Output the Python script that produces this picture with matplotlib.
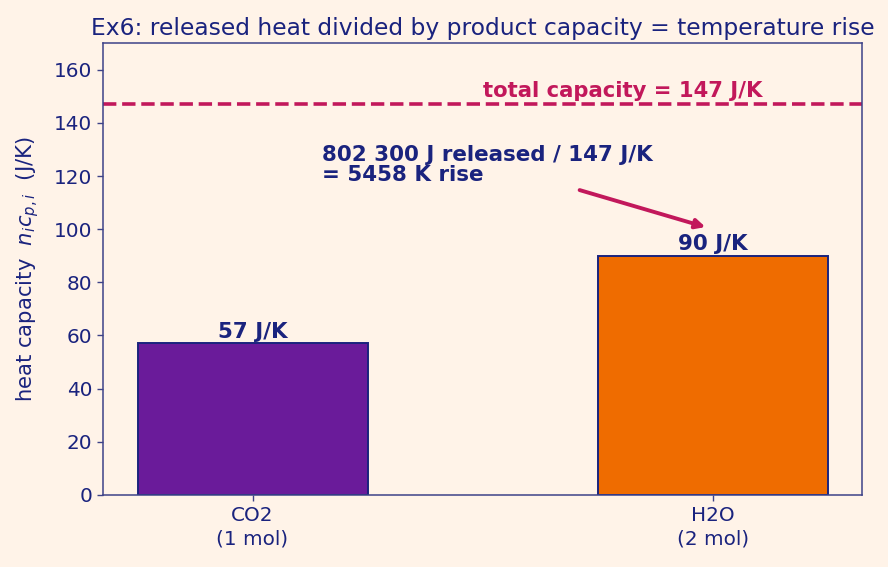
import numpy as np
import matplotlib
matplotlib.use("Agg")
import matplotlib.pyplot as plt

# data
labels = ["CO2\n(1 mol)", "H2O\n(2 mol)"]
capacity = [57, 90]
total_cap = 147
bar_colors = ["#6a1b9a", "#ef6c00"]

navy = "#1a237e"
crimson = "#c2185b"
bg = "#fff3e8"

fig, ax = plt.subplots(figsize=(8.88, 5.67), dpi=100)
fig.patch.set_facecolor(bg)
ax.set_facecolor(bg)

x = np.arange(len(labels))
ax.bar(x, capacity, width=0.5, color=bar_colors, edgecolor=navy, linewidth=1.4)
for xi, v in zip(x, capacity):
	ax.text(xi, v + 0.5, "%d J/K" % v, ha="center", va="bottom",
		fontsize=15.4, fontweight="bold", color=navy)

ax.axhline(total_cap, color=crimson, linestyle="--", linewidth=2.6)
ax.text(0.5, total_cap + 1.2, "total capacity = %d J/K" % total_cap,
	color=crimson, fontsize=15.2, fontweight="bold", ha="left", va="bottom")

ax.text(0.152, 116.5, "802 300 J released / 147 J/K\n= 5458 K rise",
	color=navy, fontsize=15.4, fontweight="bold", ha="left", va="bottom",
	linespacing=1.05)
ax.annotate("", xy=(0.99, 100.5), xytext=(0.705, 115),
	arrowprops=dict(arrowstyle="-|>", color=crimson, lw=2.8, mutation_scale=14))

ax.set_ylim(0, 170)
ax.set_xticks(x)
ax.set_xticklabels(labels, linespacing=1.3)
ax.set_ylabel("heat capacity  $n_i c_{p,i}$  (J/K)", color=navy, fontsize=15.2, labelpad=9)
ax.set_title("Ex6: released heat divided by product capacity = temperature rise",
	color=navy, fontsize=16.8)
ax.tick_params(colors="#3d4288", labelcolor=navy, labelsize=14.4, length=4.2, width=1.0)
for s in ax.spines.values():
	s.set_color("#3d4288")
	s.set_linewidth(1.1)

plt.subplots_adjust(left=0.116, right=0.971, top=0.924, bottom=0.127)
plt.savefig("out.png", dpi=100, facecolor=bg)
